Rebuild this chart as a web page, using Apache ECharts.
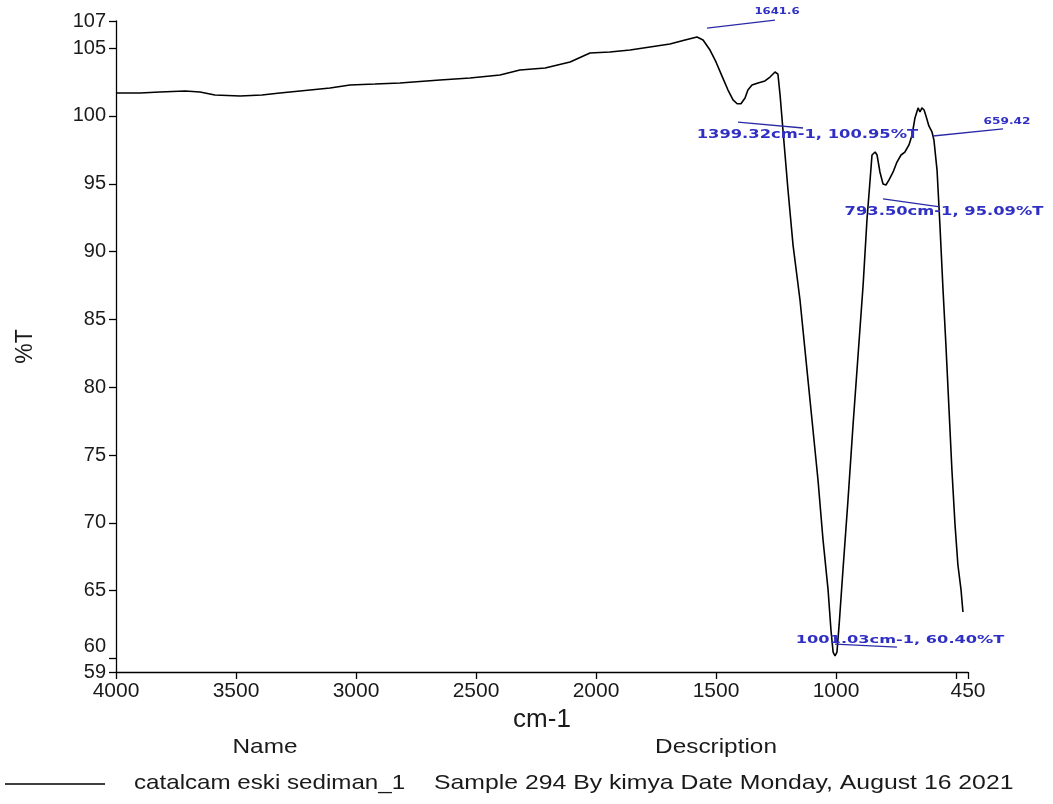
<!DOCTYPE html>
<html>
<head>
<meta charset="utf-8">
<script src="https://cdn.jsdelivr.net/npm/echarts@6/dist/echarts.min.js"></script>
<style>
html,body{margin:0;padding:0;background:#fff;}
#c{width:1053px;height:804px;}
</style>
</head>
<body>
<div id="c"></div>
<script>
// ---- data ----
const wavenumber = [4000,3900,3817,3712,3650,3588,3483,3392,3317,3233,3108,3025,2921,2817,2650,2525,2400,2317,2212,2108,2025,1942,1858,1775,1692,1629,1579,1554,1525,1500,1475,1450,1429,1412,1396,1379,1367,1350,1325,1296,1275,1254,1242,1233,1221,1200,1179,1150,1125,1100,1075,1054,1033,1021,1012,1004,996,987,971,950,929,908,887,871,858,850,837,829,817,804,792,779,762,746,729,713,696,683,671,658,650,642,633,625,613,600,592,579,567,554,542,529,517,504,492,479,471];
const transmittance = [101.69,101.69,101.76,101.84,101.76,101.54,101.47,101.54,101.69,101.84,102.06,102.28,102.35,102.43,102.65,102.80,103.02,103.39,103.53,103.98,104.64,104.71,104.86,105.08,105.30,105.60,105.82,105.60,104.86,103.98,102.94,101.91,101.18,100.90,100.90,101.32,101.91,102.28,102.43,102.58,102.87,103.24,103.09,101.54,98.96,94.54,90.48,86.43,82.00,77.58,73.16,68.73,65.05,62.10,60.47,60.18,60.47,62.47,66.52,71.68,77.21,82.37,87.53,92.33,95.28,97.12,97.34,97.12,95.87,94.98,94.91,95.28,95.87,96.60,97.12,97.34,97.86,98.59,99.85,100.59,100.29,100.59,100.44,100.00,99.26,98.82,98.23,96.01,91.96,87.17,83.11,78.32,73.89,69.84,66.89,65.05,63.42];

const xTicks = [4000,3500,3000,2500,2000,1500,1000,500,450];
const xTickLabels = [4000,3500,3000,2500,2000,1500,1000,450];
const yTicks = [59,60,65,70,75,80,85,90,95,100,105,107];

const xTitle = 'cm-1';
const yTitle = '%T';

// peak annotations (data space: [wavenumber, %T])
const peakLabels = ['1641.6','1399.32cm-1, 100.95%T','659.42','793.50cm-1, 95.09%T','1001.03cm-1, 60.40%T'];
const leaderFrom = [[1537.5,106.48],[1408.3,99.55],[596,98.52],[804,93.88],[1004,61.06]];
const leaderTo   = [[1254.2,107.07],[1137.5,99.11],[304,99.04],[567,93.29],[746,60.84]];
const labelAt    = [[1246,107.66],[1119,98.59],[287.5,99.55],[550,92.92],[733,61.36]];

const legendHeaders = ['Name','Description'];
const legendRow = ['catalcam eski sediman_1','Sample 294 By kimya Date Monday, August 16 2021'];

// ---- layout / style ----
const FONT = 'Liberation Sans, Arial, sans-serif';
const TXT = '#1a1a1a';
const annoFont = [9,12,9,12,10];
const annoScale = [1.3,1.36,1.35,1.36,1.62];
const ANNO_COLOR = '#2f2fc4';
const LEADER_COLOR = '#2a2aa8';

const chart = echarts.init(document.getElementById('c'), null, {renderer:'canvas'});
const points = wavenumber.map((w,i)=>[w, transmittance[i]]);

chart.setOption({
  animation:false,
  backgroundColor:'#fff',
  grid:{left:116,right:85,top:21,bottom:132,containLabel:false},
  xAxis:{
    type:'value', inverse:true, min:450, max:4000,
    name:xTitle, nameLocation:'middle', nameGap:34,
    nameTextStyle:{fontFamily:FONT,fontSize:26,color:TXT},
    axisLine:{show:true,onZero:false,lineStyle:{color:'#000',width:1.3}},
    axisTick:{show:true,length:7,inside:false,customValues:xTicks,lineStyle:{color:'#000',width:1.3}},
    axisLabel:{show:true,customValues:xTickLabels,margin:9,fontFamily:FONT,fontSize:21,color:TXT,
      showMinLabel:true,showMaxLabel:true,formatter:function(v){return String(v);}},
    splitLine:{show:false}
  },
  yAxis:{
    type:'value', min:59, max:107,
    name:yTitle, nameLocation:'middle', nameGap:79, nameRotate:90,
    nameTextStyle:{fontFamily:FONT,fontSize:23,color:TXT},
    axisLine:{show:true,onZero:false,lineStyle:{color:'#000',width:1.3}},
    axisTick:{show:true,length:7,customValues:yTicks,lineStyle:{color:'#000',width:1.3}},
    axisLabel:{show:true,customValues:yTicks,margin:10,fontFamily:FONT,fontSize:20,color:TXT,
      formatter:function(v){ return v===60 ? '{up|60}' : String(v); },
      rich:{up:{fontFamily:FONT,fontSize:20,color:TXT,padding:[0,0,24,0]}}
    },
    splitLine:{show:false}
  },
  series:[{
    type:'line', data:points, showSymbol:false, smooth:false,
    lineStyle:{color:'#000',width:1.6}, silent:true
  }]
});

const graphics = [];
for(let i=0;i<peakLabels.length;i++){
  const a = chart.convertToPixel({gridIndex:0}, leaderFrom[i]);
  const b = chart.convertToPixel({gridIndex:0}, leaderTo[i]);
  const t = chart.convertToPixel({gridIndex:0}, labelAt[i]);
  graphics.push({type:'line',shape:{x1:a[0],y1:a[1],x2:b[0],y2:b[1]},style:{stroke:LEADER_COLOR,lineWidth:1.3},z:10});
  graphics.push({type:'text',x:t[0],y:t[1],scaleX:annoScale[i],z:11,
    style:{text:peakLabels[i],fill:ANNO_COLOR,font:'bold '+annoFont[i]+'px "DejaVu Sans", sans-serif',align:'center',verticalAlign:'middle'}});
}
// legend block
graphics.push({type:'text',x:265,y:747,scaleX:1.16,style:{text:legendHeaders[0],fill:TXT,font:'21px '+FONT,align:'center',verticalAlign:'middle'}});
graphics.push({type:'text',x:716,y:747,scaleX:1.16,style:{text:legendHeaders[1],fill:TXT,font:'21px '+FONT,align:'center',verticalAlign:'middle'}});
graphics.push({type:'line',shape:{x1:5,y1:784,x2:105,y2:784},style:{stroke:'#000',lineWidth:1.6}});
graphics.push({type:'text',x:134,y:783,scaleX:1.15,style:{text:legendRow[0],fill:TXT,font:'21px '+FONT,align:'left',verticalAlign:'middle'}});
graphics.push({type:'text',x:434,y:783,scaleX:1.18,style:{text:legendRow[1],fill:TXT,font:'21px '+FONT,align:'left',verticalAlign:'middle'}});

chart.setOption({graphic:graphics});
</script>
</body>
</html>
